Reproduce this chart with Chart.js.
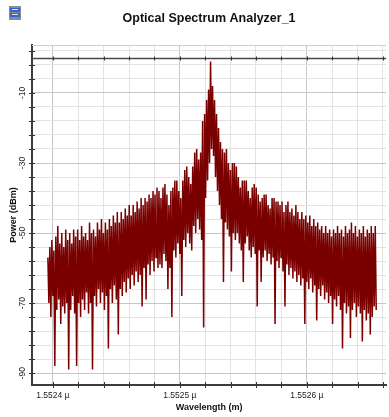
<!DOCTYPE html>
<html>
<head>
<meta charset="utf-8">
<script src="https://cdn.jsdelivr.net/npm/chart.js@4.4.1/dist/chart.umd.min.js"></script>
<style>
  html, body { margin: 0; padding: 0; background: #fff; }
  #wrap { width: 389px; height: 417px; position: relative; }
</style>
</head>
<body>
<div id="wrap"><canvas id="osa"></canvas></div>
<script>
// sampled spectrum: one upper and one lower reading every sample step (values in dBm)
const startWavelength = 1.5523961; // µm
const sampleStep = 0.0000015625;   // µm
const peakLevels = [
  -57,-54,-52,-55,-51,-48,-53,-50,-54,-49,
  -52,-50,-53,-49,-51,-49,-52,-48,-51,-50,
  -52,-47,-50,-49,-51,-47,-49,-46,-50,-47,
  -49,-46,-48,-45,-47,-44,-47,-44,-46,-43,
  -45,-42,-45,-42,-44,-41,-43,-40,-42,-40,
  -41,-39,-40,-38,-39,-37,-38,-40,-37,-36,
  -39,-42,-38,-37,-35,-35,-38,-40,-35,-32,
  -31,-34,-36,-31,-27,-26,-29,-27,-18,-16,
  -12,-9,-1,-8,-12,-16,-20,-24,-26,-27,
  -26,-30,-32,-30,-30,-31,-34,-37,-35,-35,
  -35,-38,-40,-37,-36,-37,-39,-41,-40,-39,
  -39,-42,-43,-40,-40,-41,-41,-42,-41,-44,
  -42,-41,-44,-43,-45,-42,-44,-46,-44,-46,
  -45,-47,-45,-48,-46,-48,-47,-49,-48,-50,
  -48,-50,-49,-51,-49,-50,-48,-50,-49,-51,
  -48,-50,-49,-47,-50,-48,-51,-49,-50,-48,
  -51,-49,-50,-48,-50,-48
];
const dipLevels = [
  -70,-74,-68,-88,-72,-69,-76,-71,-73,-70,
  -89,-72,-68,-73,-88,-70,-74,-69,-72,-67,
  -73,-70,-89,-68,-71,-66,-70,-67,-72,-68,
  -83,-66,-70,-65,-69,-79,-66,-68,-64,-67,
  -63,-66,-62,-65,-61,-64,-62,-71,-60,-69,
  -59,-62,-58,-61,-57,-60,-59,-60,-56,-58,
  -66,-60,-74,-55,-57,-53,-56,-68,-52,-54,
  -50,-53,-55,-48,-50,-46,-49,-52,-77,-40,
  -35,-30,-26,-28,-34,-38,-42,-46,-64,-47,
  -49,-51,-61,-50,-52,-50,-53,-55,-64,-53,
  -51,-55,-57,-54,-56,-71,-55,-64,-57,-55,
  -58,-56,-59,-57,-76,-58,-60,-57,-61,-71,
  -59,-62,-60,-63,-61,-64,-62,-65,-63,-76,
  -64,-66,-63,-67,-65,-75,-66,-68,-65,-69,
  -67,-70,-68,-76,-69,-71,-68,-72,-83,-70,
  -73,-71,-80,-72,-70,-74,-71,-73,-81,-72,
  -75,-73,-79,-74,-71,-72
];

// axis ticks
const wavelengthGrid = [1.5524, 1.55242, 1.55244, 1.55246, 1.55248, 1.5525, 1.55252,
  1.55254, 1.55256, 1.55258, 1.5526, 1.55262, 1.55264, 1.55266];
const wavelengthLabels = [1.5524, 1.5525, 1.5526];
const powerGrid = [-90, -86, -82, -78, -74, -70, -66, -62, -58, -54, -50, -46, -42,
  -38, -34, -30, -26, -22, -18, -14, -10, -6, -2, 2];
const powerLabels = [-10, -30, -50, -70, -90];

const FONT = "'Liberation Sans', Arial, sans-serif";
const near = (a, b) => Math.abs(a - b) < 1e-9;

const points = [];
peakLevels.forEach((p, i) => {
  const wl = startWavelength + i * sampleStep;
  points.push({ x: wl, y: p });
  points.push({ x: wl + sampleStep / 2, y: dipLevels[i] });
});

// zero line, frame top, small axis ticks, rotated power labels and the window icon
const osaDecor = {
  id: 'osaDecor',
  beforeDatasetsDraw(chart) {
    const { ctx, chartArea, scales: { x, y } } = chart;
    const y0 = Math.round(y.getPixelForValue(0)) + 0.5;
    ctx.save();
    ctx.strokeStyle = '#cfcfcf';
    ctx.lineWidth = 1;
    ctx.beginPath();
    ctx.moveTo(chartArea.left, chartArea.top + 0.5);
    ctx.lineTo(chartArea.right, chartArea.top + 0.5);
    ctx.stroke();
    ctx.strokeStyle = '#4a4a4a';
    ctx.lineWidth = 1.5;
    ctx.beginPath();
    ctx.moveTo(chartArea.left, y0);
    ctx.lineTo(chartArea.right, y0);
    ctx.stroke();
    ctx.lineWidth = 1;
    ctx.strokeStyle = '#333';
    wavelengthGrid.forEach(w => {
      const px = Math.round(x.getPixelForValue(w)) + 0.5;
      ctx.beginPath();
      ctx.moveTo(px, y0 - 2); ctx.lineTo(px, y0 + 2);
      ctx.stroke();
    });
    ctx.restore();
  },
  afterDraw(chart) {
    const { ctx, chartArea, scales: { x, y } } = chart;
    ctx.save();
    ctx.strokeStyle = '#333';
    ctx.lineWidth = 1;
    wavelengthGrid.forEach(w => {
      const px = Math.round(x.getPixelForValue(w)) + 0.5;
      ctx.beginPath();
      ctx.moveTo(px, chartArea.bottom - 3); ctx.lineTo(px, chartArea.bottom + 3);
      ctx.stroke();
    });
    powerGrid.forEach(v => {
      const py = Math.round(y.getPixelForValue(v)) + 0.5;
      ctx.beginPath();
      ctx.moveTo(chartArea.left - 3, py); ctx.lineTo(chartArea.left + 3, py);
      ctx.stroke();
    });
    ctx.fillStyle = '#222';
    ctx.font = '8.5px ' + FONT;
    ctx.textAlign = 'center';
    ctx.textBaseline = 'middle';
    powerLabels.forEach(v => {
      ctx.save();
      ctx.translate(23, y.getPixelForValue(v));
      ctx.rotate(-Math.PI / 2);
      ctx.fillText(String(v), 0, 0);
      ctx.restore();
    });
    // little window icon
    ctx.fillStyle = '#8c8c8c';
    ctx.fillRect(9, 6, 12, 14);
    ctx.fillStyle = '#2f63d6';
    ctx.fillRect(10, 8, 10, 4);
    ctx.fillRect(10, 13, 10, 4);
    ctx.fillStyle = '#dfe6f5';
    ctx.fillRect(12, 9, 6, 1);
    ctx.fillRect(12, 14, 6, 1);
    ctx.restore();
  }
};

new Chart(document.getElementById('osa'), {
  type: 'line',
  data: {
    datasets: [{
      data: points,
      borderColor: '#7a0000',
      borderWidth: 1.5,
      pointRadius: 0,
      tension: 0,
      fill: false
    }]
  },
  options: {
    responsive: true,
    maintainAspectRatio: false,
    animation: false,
    parsing: false,
    layout: { padding: 0 },
    plugins: {
      legend: { display: false },
      tooltip: { enabled: false },
      title: {
        display: true,
        text: 'Optical Spectrum Analyzer_1',
        fullSize: false,
        color: '#111',
        font: { size: 12.5, weight: 'bold', family: FONT },
        padding: { top: 11.5, bottom: 18.5 }
      }
    },
    scales: {
      x: {
        type: 'linear',
        min: 1.5523836,
        max: 1.5526625,
        afterBuildTicks: s => { s.ticks = wavelengthGrid.map(v => ({ value: v })); },
        afterFit: s => { s.height = 32; },
        grid: {
          drawTicks: false,
          color: c => wavelengthLabels.some(w => near(w, c.tick.value)) ? '#c6c6c6' : '#e3e3e3'
        },
        border: { display: true, color: '#3c3c3c', width: 2 },
        ticks: {
          autoSkip: false,
          maxRotation: 0,
          minRotation: 0,
          padding: 6,
          color: '#222',
          font: { size: 8.5, family: FONT },
          callback: v => wavelengthLabels.some(w => near(w, v)) ? v.toFixed(4) + ' µ' : ''
        },
        title: {
          display: true,
          text: 'Wavelength (m)',
          color: '#111',
          font: { size: 9, weight: 'bold', family: FONT },
          padding: { top: 0, bottom: 4 }
        }
      },
      y: {
        type: 'linear',
        min: -93.4,
        max: 3.7,
        afterBuildTicks: s => { s.ticks = powerGrid.map(v => ({ value: v })); },
        afterFit: s => { s.width = 32; },
        grid: {
          drawTicks: false,
          color: c => powerLabels.includes(c.tick.value) ? '#c6c6c6' : '#e3e3e3'
        },
        border: { display: true, color: '#3c3c3c', width: 2 },
        ticks: { display: false },
        title: {
          display: true,
          text: 'Power (dBm)',
          color: '#111',
          font: { size: 9, weight: 'bold', family: FONT },
          padding: { top: 8, bottom: 0 }
        }
      }
    }
  },
  plugins: [osaDecor]
});
</script>
</body>
</html>
